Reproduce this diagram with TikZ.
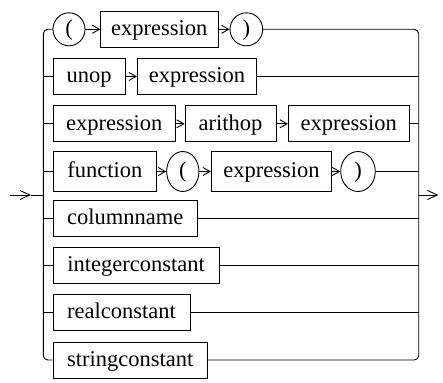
\documentclass[tikz,border=0pt]{standalone}
\usepackage{fontspec}
\setmainfont{Liberation Serif}
\newfontfamily\railfont{Liberation Serif}
\usetikzlibrary{arrows.meta,shapes.geometric}
\tikzset{
  rail/.style={draw=black, line width=0.9pt},
  link/.style={rail, -{Straight Barb[length=7pt,width=8pt,line width=0.9pt]}},
  endarrow/.style={rail, -{Straight Barb[length=10pt,width=9pt,line width=0.9pt]}},
  lbl/.style={font=\railfont\fontsize{22.5}{26}\selectfont, text height=15pt, text depth=2.5pt, inner sep=0pt},
  termbox/.style={lbl, draw=black, line width=0.9pt, rectangle, minimum height=36pt},
  termoval/.style={lbl, draw=black, line width=0.9pt, ellipse, minimum height=33pt},
}
\begin{document}
\begin{tikzpicture}[x=1pt,y=-1pt]
\useasboundingbox (0,0) rectangle (443,382);
% rails
\coordinate (lt) at (43.3,29.3);
\coordinate (lb) at (43.3,360);
\coordinate (rt) at (418.7,29.3);
\coordinate (rb) at (418.7,360);
\coordinate (in) at (10,195);
\coordinate (inmid) at (31,195);
\coordinate (inrail) at (43.3,195);
\coordinate (outrail) at (418.7,195);
\coordinate (out) at (438.5,195);
% row 1
\node[termoval, minimum width=32pt] (o1a) at (69,29.3) {(};
\node[termbox, minimum width=117.3pt] (e1) at (159.35,29.3) {expression};
\node[termoval, minimum width=32.7pt] (o1b) at (246.35,29.3) {)};
% row 2
\node[termbox, minimum width=72pt] (unop) at (89,76.5) {unop};
\node[termbox, minimum width=119.4pt] (e2) at (197,76.5) {expression};
% row 3
\node[termbox, minimum width=122.7pt] (e3a) at (114.35,123.8) {expression};
\node[termbox, minimum width=91pt] (arith) at (230.5,123.8) {arithop};
\node[termbox, minimum width=120.7pt] (e3b) at (348.65,123.8) {expression};
% row 4
\node[termbox, minimum width=103.7pt, minimum height=40pt] (func) at (104.85,171.5) {function};
\node[termoval, minimum width=32.3pt, minimum height=40pt] (o4a) at (182.8,171.5) {(};
\node[termbox, minimum width=120.4pt, minimum height=40pt] (e4) at (271.5,171.5) {expression};
\node[termoval, minimum width=34.6pt, minimum height=40pt] (o4b) at (358,171.5) {)};
% rows 5-8
\node[termbox, minimum width=144.7pt] (col) at (125.35,218.3) {columnname};
\node[termbox, minimum width=166.3pt] (intc) at (136.15,265.5) {integerconstant};
\node[termbox, minimum width=137pt] (realc) at (121.5,312.7) {realconstant};
\node[termbox, minimum width=154.3pt] (strc) at (130.15,360) {stringconstant};
% in-row links
\draw[link] (o1a) -- (e1);
\draw[link] (e1) -- (o1b);
\draw[link] (unop) -- (e2);
\draw[link] (e3a) -- (arith);
\draw[link] (arith) -- (e3b);
\draw[link] (func) -- (o4a);
\draw[link] (o4a) -- (e4);
\draw[link] (e4) -- (o4b);
% left rail
\draw[rail, rounded corners=4.5pt] (o1a.west) -- (lt) -- (lb) -- (strc.west);
\foreach \n in {unop,e3a,func,col,intc,realc}
  \draw[rail] (lt |- \n.west) -- (\n.west);
% right rail
\draw[rail, rounded corners=4.5pt] (o1b.east) -- (rt) -- (rb) -- (strc.east);
\foreach \n in {e2,e3b,o4b,col,intc,realc}
  \draw[rail] (\n.east) -- (rt |- \n.east);
% entry and exit
\draw[endarrow] (in) -- (inmid);
\draw[rail] (inmid) -- (inrail);
\draw[endarrow] (outrail) -- (out);
\end{tikzpicture}
\end{document}
